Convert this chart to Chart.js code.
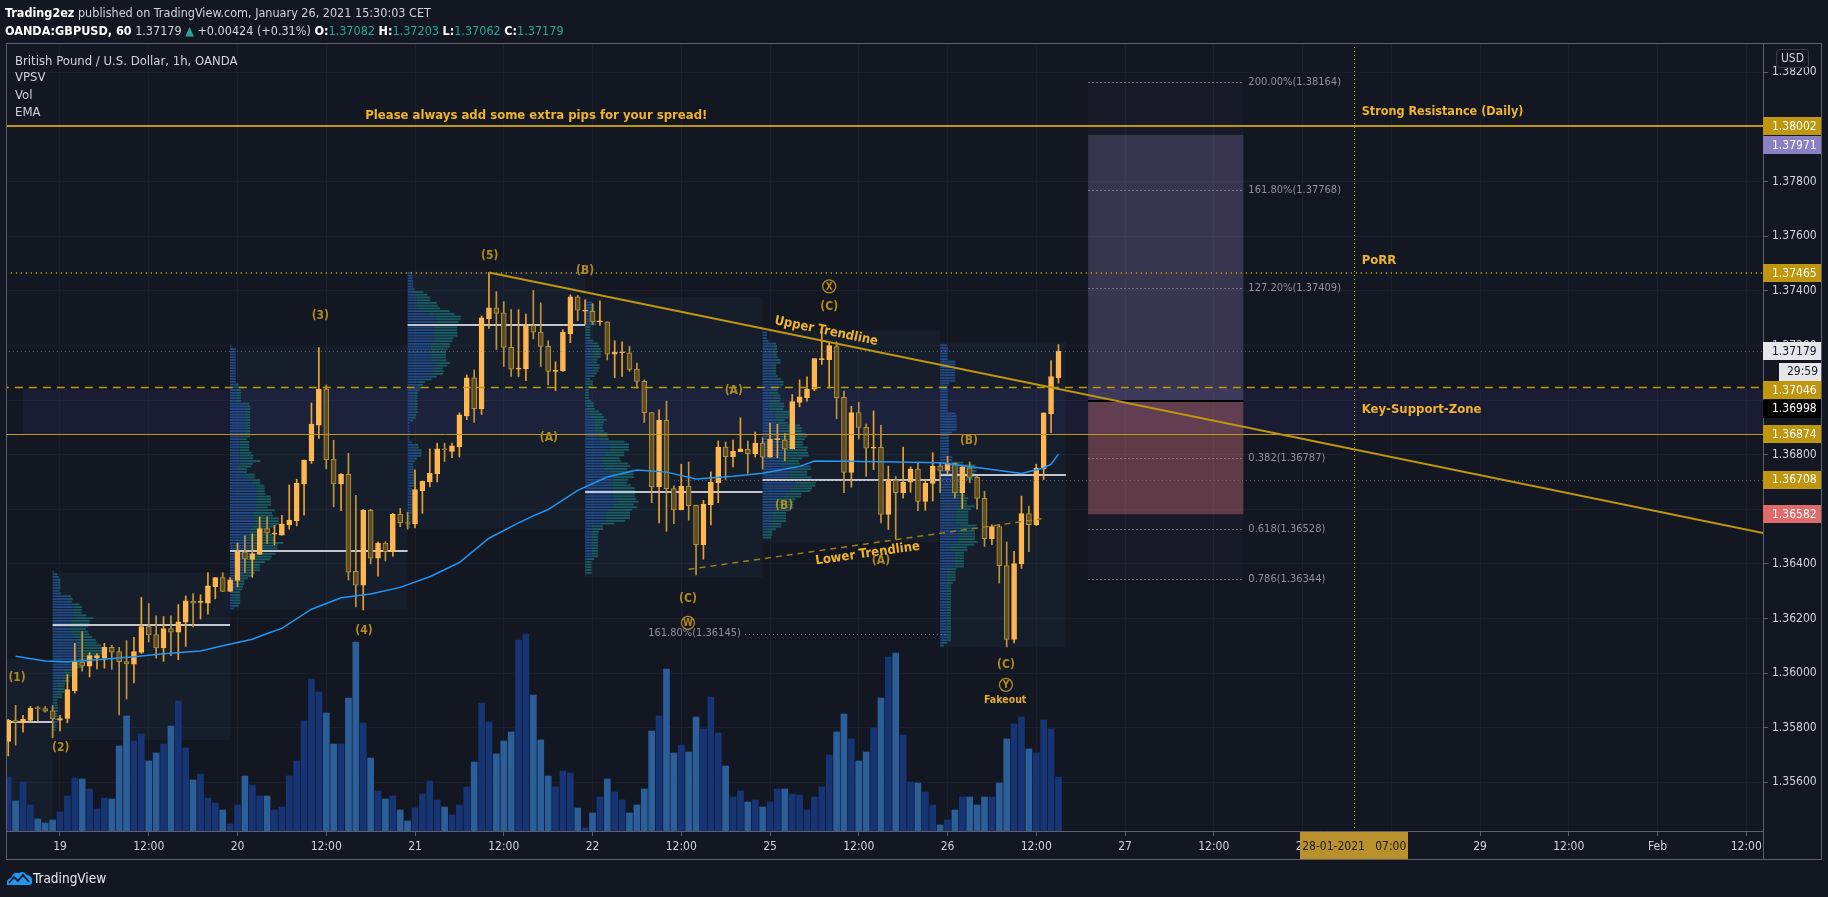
<!DOCTYPE html>
<html>
<head>
<meta charset="utf-8">
<script src="https://cdn.jsdelivr.net/npm/chart.js@4.4.1/dist/chart.umd.min.js"></script>
<style>
  html, body { margin: 0; padding: 0; background: #131722; width: 1828px; height: 897px; overflow: hidden; }
  #chart { position: absolute; left: 0; top: 0; }
  .txt { position: absolute; white-space: nowrap; color: #d1d4dc; z-index: 2; }
  .up { color: #26a69a; }
  b { color: #ffffff; }
</style>
</head>
<body>
<div class="txt" style="left:5px;top:5px;font-size:12.5px"><b>Trading2ez</b> published on TradingView.com, January 26, 2021 15:30:03 CET</div>
<div class="txt" style="left:5px;top:23px;font-size:12.5px"><b>OANDA:GBPUSD, 60</b> 1.37179 <span class="up">&#9650;</span> +0.00424 (+0.31%) <b>O:</b><span class="up">1.37082</span> <b>H:</b><span class="up">1.37203</span> <b>L:</b><span class="up">1.37062</span> <b>C:</b><span class="up">1.37179</span></div>
<div class="txt" style="left:15px;top:53px;font-size:13px">British Pound / U.S. Dollar, 1h, OANDA</div>
<div class="txt" style="left:15px;top:69px;font-size:13px">VPSV</div>
<div class="txt" style="left:15px;top:87px;font-size:13px">Vol</div>
<div class="txt" style="left:15px;top:104px;font-size:13px">EMA</div>
<div class="txt" style="left:6px;top:870px;font-size:13.5px;color:#e8eaf0">
  <svg width="27" height="16" viewBox="0 0 27 16" style="vertical-align:-3px"><path d="M1 15 Q0 9 5 8 Q7 2 13 3 Q17 0 21 5 Q27 6 26 12 Q26 15 23 15 Z" fill="#2196f3"/><polyline points="3,13 8,7 12,11 17,5 23,12" fill="none" stroke="#131722" stroke-width="1.8"/></svg>TradingView
</div>
<canvas id="chart" width="1828" height="897"></canvas>
<script>
// 数据：小时序号 0 = 1月19日 00:00（周末不计）
const firstHour = -7;
const openP = [
  1.35750,1.35826,1.35818,1.35827,1.35871,1.35870,1.35862,
  1.35828,1.35834,1.35936,1.36040,1.36025,1.36055,1.36055,1.36094,1.36079,1.36042,
  1.36033,1.36076,1.36170,1.36141,1.36092,1.36163,1.36150,1.36187,1.36264,1.36259,
  1.36256,1.36317,1.36350,1.36299,1.36339,1.36444,1.36416,1.36435,1.36529,1.36509,
  1.36505,1.36543,1.36557,1.36693,1.36777,1.36908,1.37040,1.36784,1.36693,1.36728,
  1.36373,1.36322,1.36596,1.36421,1.36476,1.36445,1.36582,1.36550,1.36546,1.36668,
  1.36700,1.36730,1.36821,1.36812,1.36828,1.36942,1.37081,1.36968,1.37298,1.37338,
  1.37319,1.37193,1.37113,1.37114,1.37273,1.37249,1.37197,1.37105,1.37107,1.37242,
  1.37378,1.37325,1.37325,1.37286,1.37286,1.37168,1.37173,1.37173,1.37113,1.37068,
  1.36954,1.36682,1.36926,1.36676,1.36598,1.36685,1.36615,1.36470,1.36616,1.36697,
  1.36828,1.36793,1.36811,1.36819,1.36804,1.36842,1.36791,1.36855,1.36853,1.36821,
  1.36991,1.37009,1.37040,1.37148,1.37148,1.37196,1.37010,1.36735,1.36954,1.36900,
  1.36824,1.36827,1.36581,1.36707,1.36661,1.36699,1.36747,1.36629,1.36695,1.36758,
  1.36742,1.36768,1.36661,1.36752,1.36717,1.36640,1.36492,1.36537,1.36394,1.36123,
  1.36400,1.36584,1.36544,1.36748,1.36949,1.37082
];
const highP = [
  1.35831,1.35882,1.35845,1.35878,1.35878,1.35878,1.35881,
  1.35845,1.35995,1.36109,1.36152,1.36075,1.36072,1.36109,1.36102,1.36094,1.36119,
  1.36131,1.36277,1.36255,1.36210,1.36207,1.36210,1.36251,1.36283,1.36291,1.36287,
  1.36368,1.36350,1.36368,1.36350,1.36476,1.36503,1.36510,1.36572,1.36572,1.36541,
  1.36578,1.36689,1.36710,1.36780,1.36989,1.37192,1.37055,1.36853,1.36731,1.36805,
  1.36651,1.36600,1.36600,1.36481,1.36481,1.36585,1.36603,1.36589,1.36744,1.36703,
  1.36821,1.36842,1.36842,1.36842,1.36953,1.37092,1.37110,1.37308,1.37467,1.37397,
  1.37360,1.37331,1.37331,1.37315,1.37401,1.37356,1.37217,1.37140,1.37258,1.37385,
  1.37383,1.37367,1.37353,1.37363,1.37286,1.37217,1.37213,1.37196,1.37135,1.37074,
  1.36954,1.36964,1.36996,1.36686,1.36765,1.36773,1.36615,1.36633,1.36737,1.36850,
  1.36846,1.36853,1.36935,1.36850,1.36883,1.36862,1.36916,1.36911,1.36878,1.37020,
  1.37074,1.37085,1.37152,1.37252,1.37208,1.37213,1.37033,1.36977,1.36992,1.36912,
  1.36960,1.36907,1.36758,1.36720,1.36828,1.36755,1.36773,1.36710,1.36807,1.36768,
  1.36794,1.36769,1.36761,1.36773,1.36721,1.36666,1.36543,1.36544,1.36480,1.36446,
  1.36648,1.36612,1.36765,1.36953,1.37144,1.37203
];
const lowP = [
  1.35697,1.35736,1.35784,1.35821,1.35824,1.35857,1.35763,
  1.35788,1.35818,1.35927,1.36007,1.35986,1.36015,1.36018,1.36014,1.35847,1.35905,
  1.35964,1.36072,1.36114,1.36055,1.36043,1.36064,1.36049,1.36098,1.36169,1.36198,
  1.36216,1.36272,1.36299,1.36299,1.36316,1.36369,1.36351,1.36435,1.36474,1.36470,
  1.36505,1.36527,1.36539,1.36578,1.36768,1.36859,1.36748,1.36609,1.36595,1.36341,
  1.36242,1.36231,1.36400,1.36355,1.36411,1.36428,1.36536,1.36527,1.36532,1.36585,
  1.36682,1.36700,1.36775,1.36789,1.36791,1.36928,1.36918,1.36947,1.37262,1.37185,
  1.37123,1.37086,1.37086,1.37071,1.37224,1.37123,1.37055,1.37034,1.37105,1.37210,
  1.37291,1.37277,1.37277,1.37273,1.37147,1.37082,1.37086,1.37105,1.37043,1.36918,
  1.36624,1.36550,1.36519,1.36547,1.36598,1.36560,1.36360,1.36417,1.36543,1.36624,
  1.36709,1.36755,1.36811,1.36732,1.36791,1.36747,1.36790,1.36789,1.36777,1.36821,
  1.36975,1.36996,1.37034,1.37130,1.37044,1.36932,1.36661,1.36681,1.36857,1.36720,
  1.36745,1.36550,1.36526,1.36491,1.36641,1.36662,1.36595,1.36596,1.36630,1.36661,
  1.36728,1.36641,1.36602,1.36697,1.36600,1.36464,1.36470,1.36330,1.36096,1.36111,
  1.36383,1.36445,1.36540,1.36709,1.36880,1.37062
];
const closeP = [
  1.35827,1.35821,1.35831,1.35871,1.35870,1.35861,1.35832,
  1.35834,1.35940,1.36040,1.36025,1.36064,1.36064,1.36094,1.36077,1.36042,1.36034,
  1.36079,1.36170,1.36140,1.36092,1.36163,1.36150,1.36188,1.36265,1.36256,1.36259,
  1.36320,1.36350,1.36299,1.36342,1.36444,1.36418,1.36437,1.36529,1.36513,1.36509,
  1.36546,1.36560,1.36696,1.36780,1.36912,1.37040,1.36782,1.36693,1.36728,1.36370,
  1.36322,1.36596,1.36421,1.36476,1.36445,1.36582,1.36550,1.36548,1.36672,1.36703,
  1.36732,1.36821,1.36818,1.36832,1.36946,1.37081,1.36968,1.37301,1.37338,1.37317,
  1.37193,1.37113,1.37115,1.37273,1.37248,1.37196,1.37105,1.37107,1.37248,1.37378,
  1.37329,1.37329,1.37286,1.37286,1.37168,1.37175,1.37173,1.37112,1.37068,1.36954,
  1.36682,1.36926,1.36675,1.36598,1.36685,1.36613,1.36470,1.36619,1.36699,1.36828,
  1.36793,1.36812,1.36821,1.36804,1.36842,1.36791,1.36857,1.36855,1.36821,1.36994,
  1.37012,1.37040,1.37152,1.37152,1.37199,1.37009,1.36735,1.36954,1.36900,1.36824,
  1.36824,1.36581,1.36709,1.36661,1.36699,1.36747,1.36629,1.36696,1.36758,1.36742,
  1.36768,1.36661,1.36755,1.36717,1.36640,1.36492,1.36537,1.36393,1.36123,1.36401,
  1.36584,1.36544,1.36751,1.36953,1.37086,1.37179
];
const volume = [
  54,30,49,26,12,8,11,
  19,35,53,52,42,22,33,32,85,115,
  90,97,70,78,87,105,130,83,51,57,
  33,28,21,7,26,55,46,35,35,21,
  24,55,70,110,152,139,118,87,87,133,
  189,108,73,40,32,35,21,10,23,37,
  50,31,24,16,26,44,69,128,109,77,
  90,99,191,197,136,91,55,44,60,58,
  23,3,18,34,52,39,31,18,26,42,
  100,115,162,78,86,79,114,102,134,98,
  65,34,40,29,31,24,29,42,42,37,
  36,21,34,44,76,99,117,92,70,79,
  103,133,174,178,96,49,48,39,26,6,
  11,21,34,34,26,34,34,48,92,107,
  114,82,78,111,102,54
];
// EMA 读自图中的折线
const emaHour = [-6,-2,1,5,10,14,19,22,26,28,30,34,38,42,46,50,54,58,62,64,66,70,74,78,82,86,91,95,100,102,106,113,119,124,130,133,134,135];
const emaPrice = [1.36062,1.36044,1.36042,1.36049,1.36060,1.36071,1.36081,1.36100,1.36124,1.36145,1.36164,1.36234,1.36276,1.36290,1.36314,1.36353,1.36405,1.36494,1.36550,1.36576,1.36599,1.36669,1.36718,1.36744,1.36736,1.36711,1.36721,1.36732,1.36757,1.36777,1.36776,1.36773,1.36770,1.36753,1.36731,1.36751,1.36765,1.36802];

const dayLabels = ['19', '20', '21', '22', '25', '26', '27', '28', '29', 'Feb'];
const priceTicks = [1.356, 1.358, 1.360, 1.362, 1.364, 1.366, 1.368, 1.370, 1.372, 1.374, 1.376, 1.378, 1.380, 1.382];
const hiddenTicks = [1.366, 1.370];

// 图上的画线（以小时、价格表示）
const fibLevels = ['200.00%', '161.80%', '127.20%', '0.382', '0.618', '0.786'];
const fibPrices = [1.38164, 1.37768, 1.37409, 1.36787, 1.36528, 1.36344];

const sessions = [
  { from: -7.5, to: -1, top: 1.36053, bottom: 1.3540, poc: 1.35821, profile: false },
  { from: -1, to: 23, top: 1.36368, bottom: 1.35755, poc: 1.36177, profile: true },
  { from: 23, to: 47, top: 1.37195, bottom: 1.36230, poc: 1.36446, profile: true },
  { from: 47, to: 71, top: 1.37470, bottom: 1.36529, poc: 1.37274, profile: true },
  { from: 71, to: 95, top: 1.37377, bottom: 1.36351, poc: 1.36665, profile: true },
  { from: 95, to: 119, top: 1.37255, bottom: 1.36480, poc: 1.36706, profile: true },
  { from: 119, to: 136, top: 1.37213, bottom: 1.36094, poc: 1.36724, profile: true }
];

const waveLabels = [
  ['(1)', -5.8, 1.35983], ['(2)', 0.1, 1.35726], ['(3)', 35.2, 1.37308], ['(4)', 41.1, 1.36154],
  ['(5)', 58.1, 1.37527], ['(B)', 71.0, 1.37472], ['(A)', 66.1, 1.36861], ['(A)', 91.1, 1.37033],
  ['(C)', 84.9, 1.36271], ['(B)', 97.9, 1.36612], ['(C)', 104.0, 1.37341], ['(A)', 111.0, 1.36411],
  ['(B)', 122.9, 1.36850], ['(C)', 127.9, 1.36030]
];
const circleLabels = [['W', 84.9, 1.36184], ['X', 104.0, 1.37416], ['Y', 127.9, 1.35957]];

function fontAvailable(name) {
  const c = document.createElement('canvas').getContext('2d');
  const s = 'mmmmmmmmmmlli1.37179';
  c.font = '40px monospace';
  const w1 = c.measureText(s).width;
  c.font = '40px "' + name + '", monospace';
  return c.measureText(s).width !== w1;
}
const FONT = fontAvailable('Liberation Sans Narrow') ? '"Liberation Sans Narrow", sans-serif' : '"DejaVu Sans Condensed", sans-serif';
document.body.style.fontFamily = FONT;

const GOLD = '#c0960f';
const GOLD_TXT = '#f0b429';
const WAVE = '#b18a1d';

const hours = openP.map((_, i) => firstHour + i);
const isUp = openP.map((o, i) => closeP[i] >= o);

function drawProfile(ctx, s, X, Y) {
  const step = 0.0001;
  const n = Math.ceil((s.top - s.bottom) / step);
  const up = new Array(n).fill(0), dn = new Array(n).fill(0);
  hours.forEach((h, i) => {
    if (h < s.from || h >= s.to) return;
    const lo = lowP[i], hi = highP[i], span = Math.max(hi - lo, step);
    for (let r = 0; r < n; r++) {
      const a = s.bottom + r * step, b = a + step;
      const ov = Math.min(hi, b) - Math.max(lo, a);
      if (ov > 0) (isUp[i] ? up : dn)[r] += volume[i] * Math.min(ov, step) / span;
    }
  });
  const max = Math.max(...up.map((u, r) => u + dn[r]));
  const x0 = X(s.from), W = (X(s.to) - x0) * 0.3;
  for (let r = 0; r < n; r++) {
    const yT = Y(s.bottom + (r + 1) * step), yB = Y(s.bottom + r * step);
    const hh = Math.max(yB - yT - 0.9, 0.8);
    const wu = up[r] / max * W, wd = dn[r] / max * W;
    ctx.fillStyle = 'rgba(36,82,150,0.85)';
    ctx.fillRect(x0, yT, wu, hh);
    ctx.fillStyle = 'rgba(26,104,112,0.85)';
    ctx.fillRect(x0 + wu, yT, wd, hh);
  }
}

function hline(ctx, X, Y, p, h0, h1, color, width, dash) {
  const y = Math.round(Y(p)) + (width % 2 ? 0.5 : 0);
  ctx.beginPath();
  ctx.setLineDash(dash || []);
  ctx.strokeStyle = color;
  ctx.lineWidth = width;
  ctx.moveTo(X(h0), y);
  ctx.lineTo(X(h1), y);
  ctx.stroke();
  ctx.setLineDash([]);
}

const tvPlugin = {
  id: 'tvDrawings',
  beforeDraw(chart) {
    const c = chart.ctx;
    c.save();
    c.fillStyle = '#131722';
    c.fillRect(0, 0, chart.width, chart.height);
    c.restore();
  },
  beforeDatasetsDraw(chart) {
    const c = chart.ctx, a = chart.chartArea;
    const X = v => chart.scales.x.getPixelForValue(v), Y = v => chart.scales.y.getPixelForValue(v);
    c.save();
    c.beginPath(); c.rect(a.left, a.top, a.right - a.left, a.bottom - a.top); c.clip();
    // Key-Support-Zone
    c.fillStyle = 'rgba(80,62,170,0.13)';
    c.fillRect(X(-5), Y(1.37040), a.right - X(-5), Y(1.36874) - Y(1.37040));
    // session volume profile
    sessions.forEach(s => {
      c.fillStyle = 'rgba(60,110,170,0.08)';
      c.fillRect(X(s.from), Y(s.top), X(s.to) - X(s.from), Y(s.bottom) - Y(s.top));
      if (s.profile) drawProfile(c, s, X, Y);
      hline(c, X, Y, s.poc, s.from, s.to, '#c3c6ce', 2);
    });
    c.restore();
  },
  afterDatasetsDraw(chart) {
    const c = chart.ctx, a = chart.chartArea;
    const X = v => chart.scales.x.getPixelForValue(v), Y = v => chart.scales.y.getPixelForValue(v);
    const L = -8, R = 232;
    c.save();
    c.beginPath(); c.rect(a.left, a.top, a.right - a.left, a.bottom - a.top); c.clip();

    // fib + long position tool
    c.fillStyle = 'rgba(120,123,134,0.05)';
    c.fillRect(X(139), Y(1.38164), X(160) - X(139), Y(1.36344) - Y(1.38164));
    c.fillStyle = 'rgba(150,130,195,0.25)';
    c.fillRect(X(139), Y(1.37971), X(160) - X(139), Y(1.36998) - Y(1.37971));
    c.fillStyle = 'rgba(200,108,120,0.40)';
    c.fillRect(X(139), Y(1.36998), X(160) - X(139), Y(1.36582) - Y(1.36998));
    hline(c, X, Y, 1.36998, 139, 160, '#000000', 2);

    // horizontal lines
    hline(c, X, Y, 1.37179, L, R, 'rgba(130,133,142,0.7)', 1, [1, 3]);
    hline(c, X, Y, 1.36708, 83, R, 'rgba(130,133,142,0.7)', 1, [1, 3]);
    hline(c, X, Y, 1.36145, 92.6, 120.1, 'rgba(150,153,162,0.8)', 1, [1, 3]);
    hline(c, X, Y, 1.38002, L, R, GOLD, 2);
    hline(c, X, Y, 1.37465, L, R, GOLD, 2, [1, 4]);
    hline(c, X, Y, 1.37046, L, R, GOLD, 1.5, [8, 6]);
    hline(c, X, Y, 1.36874, L, R, GOLD, 1);
    fibPrices.forEach(p => hline(c, X, Y, p, 139, 160, 'rgba(130,133,142,0.85)', 1, [2, 2]));

    // vertical line 28-01-2021 07:00
    c.beginPath(); c.setLineDash([1, 3]); c.strokeStyle = GOLD; c.lineWidth = 1;
    c.moveTo(Math.round(X(175)) + 0.5, a.top); c.lineTo(Math.round(X(175)) + 0.5, a.bottom); c.stroke();
    c.setLineDash([]);

    // trendlines
    const up0 = [58, 1.37467], up1 = [230.3, 1.36513];
    const lo0 = [85.0, 1.36380], lo1 = [132.7, 1.36565];
    c.beginPath(); c.strokeStyle = GOLD; c.lineWidth = 2;
    const upAt = h => up0[1] + (up1[1] - up0[1]) * (h - up0[0]) / (up1[0] - up0[0]);
    c.moveTo(X(up0[0]), Y(up0[1])); c.lineTo(X(235), Y(upAt(235))); c.stroke();
    c.beginPath(); c.strokeStyle = '#9c7c1c'; c.lineWidth = 1.5; c.setLineDash([6, 5]);
    c.moveTo(X(lo0[0]), Y(lo0[1])); c.lineTo(X(lo1[0]), Y(lo1[1])); c.stroke();
    c.setLineDash([]);

    // texts
    c.textBaseline = 'middle';
    c.fillStyle = GOLD_TXT;
    c.font = 'bold 13px ' + FONT;
    c.textAlign = 'center';
    c.fillText('Please always add some extra pips for your spread!', X(64.4), Y(1.38043));
    c.textAlign = 'left';
    c.font = 'bold 12.5px ' + FONT;
    c.fillText('Strong Resistance (Daily)', X(176), Y(1.38055));
    c.font = 'bold 13px ' + FONT;
    c.fillText('PoRR', X(176), Y(1.37509));
    c.fillText('Key-Support-Zone', X(176), Y(1.36964));

    const rot = (txt, h, p, p0, p1) => {
      const ang = Math.atan2(Y(p1[1]) - Y(p0[1]), X(p1[0]) - X(p0[0]));
      c.save(); c.translate(X(h), Y(p)); c.rotate(ang);
      c.textAlign = 'center'; c.fillStyle = GOLD_TXT; c.font = 'bold 13px ' + FONT;
      c.fillText(txt, 0, 0); c.restore();
    };
    rot('Upper Trendline', 103.6, 1.37252, up0, up1);
    rot('Lower Trendline', 109.2, 1.36437, lo0, lo1);

    c.textAlign = 'center';
    c.font = 'bold 12px ' + FONT;
    c.fillStyle = WAVE;
    waveLabels.forEach(([t, h, p]) => c.fillText(t, X(h), Y(p)));
    circleLabels.forEach(([t, h, p]) => {
      c.beginPath(); c.strokeStyle = WAVE; c.lineWidth = 1.3;
      c.arc(X(h), Y(p), 6.5, 0, Math.PI * 2); c.stroke();
      c.font = 'bold 10px ' + FONT; c.fillText(t, X(h), Y(p) + 0.5);
    });
    c.font = 'bold 10.5px ' + FONT; c.fillStyle = '#e3ad2c';
    c.fillText('Fakeout', X(127.8), Y(1.35902));

    // fib labels
    c.font = '11px ' + FONT; c.fillStyle = '#8f929b'; c.textAlign = 'left';
    fibLevels.forEach((lv, i) => c.fillText(lv + '(' + fibPrices[i].toFixed(5) + ')', X(160) + 5, Y(fibPrices[i])));
    c.textAlign = 'right';
    c.fillText('161.80%(1.36145)', X(92.6) - 4, Y(1.36145));
    c.restore();
  },
  afterDraw(chart) {
    const c = chart.ctx, a = chart.chartArea;
    const X = v => chart.scales.x.getPixelForValue(v), Y = v => chart.scales.y.getPixelForValue(v);
    c.save();
    // price labels on the axis
    const items = [
      { p: 1.38002, t: '1.38002', bg: '#c0960f', fg: '#ffffff' },
      { p: 1.37971, t: '1.37971', bg: '#8c80c4', fg: '#ffffff' },
      { p: 1.37465, t: '1.37465', bg: '#c0960f', fg: '#ffffff' },
      { p: 1.37179, t: '1.37179', bg: '#e6e7ea', fg: '#131722' },
      { p: 1.37179, t: '29:59', bg: '#e6e7ea', fg: '#131722', off: 20.5, narrow: true },
      { p: 1.37046, t: '1.37046', bg: '#c0960f', fg: '#ffffff' },
      { p: 1.36998, t: '1.36998', bg: '#000000', fg: '#ffffff' },
      { p: 1.36874, t: '1.36874', bg: '#c0960f', fg: '#ffffff' },
      { p: 1.36708, t: '1.36708', bg: '#c0960f', fg: '#ffffff' },
      { p: 1.36582, t: '1.36582', bg: '#e16a6a', fg: '#ffffff' }
    ];
    items.forEach(it => { it.y = Y(it.p) + (it.off || 0); });
    items.sort((u, v) => u.y - v.y);
    let prev = -1e9;
    items.forEach(it => { if (it.y < prev + 18.5) it.y = prev + 18.5; prev = it.y; });
    c.font = '12px ' + FONT; c.textBaseline = 'middle'; c.textAlign = 'left';
    items.forEach(it => {
      const x0 = it.narrow ? a.right + 16 : a.right;
      c.fillStyle = it.bg;
      c.fillRect(x0, Math.round(it.y - 9), 1821 - x0, 18);
      c.fillStyle = it.fg;
      c.fillText(it.t, it.narrow ? x0 + 8 : a.right + 9, it.y + 0.5);
    });
    // time highlight
    const hx = X(175);
    c.fillStyle = '#b8912a';
    c.fillRect(Math.round(hx - 54), a.bottom + 1, 108, 28);
    c.fillStyle = '#1a1a1a'; c.textAlign = 'center'; c.font = '12px ' + FONT;
    c.fillText('28-01-2021   07:00', hx, a.bottom + 15.5);
    // frame
    c.strokeStyle = '#5d606b'; c.lineWidth = 1;
    c.strokeRect(6.5, 43.5, 1815, 816);
    c.beginPath(); c.moveTo(a.right + 0.5, a.bottom); c.lineTo(a.right + 0.5, 860); c.stroke();
    // USD button
    c.beginPath(); c.strokeStyle = '#3a3e4a'; c.fillStyle = '#131722';
    c.roundRect(1776.5, 49.5, 32, 18, 3); c.fill(); c.stroke();
    c.fillStyle = '#d1d4dc'; c.font = '12px ' + FONT; c.textAlign = 'center';
    c.fillText('USD', 1792.5, 59);
    c.restore();
  }
};

const timeTicks = dayLabels.flatMap((d, i) => [i * 24, i * 24 + 12]);
const wickData = hours.map((h, i) => ({ x: h, y: [lowP[i], highP[i]] }));
const bodyData = hours.map((h, i) => ({ x: h, y: [openP[i], closeP[i]] }));
const volData = hours.map((h, i) => ({ x: h, y: volume[i] }));
const emaData = emaHour.map((h, i) => ({ x: h, y: emaPrice[i] }));

const ctx = document.getElementById('chart').getContext('2d');
new Chart(ctx, {
  type: 'bar',
  data: {
    datasets: [
      { label: 'Vol', data: volData, yAxisID: 'yVol', grouped: false, barThickness: 6, order: 4,
        backgroundColor: isUp.map(u => u ? '#173574' : '#2c5f99') },
      { label: 'wick', data: wickData, yAxisID: 'y', grouped: false, barThickness: 1, order: 3,
        backgroundColor: isUp.map(u => u ? '#eda22a' : '#c0953a') },
      { label: 'body', data: bodyData, yAxisID: 'y', grouped: false, barThickness: 5, minBarLength: 1, order: 2,
        borderSkipped: false, borderWidth: 1,
        backgroundColor: isUp.map(u => u ? '#ffb64f' : '#5e4c24'),
        borderColor: isUp.map(u => u ? '#ffb64f' : '#b89234') },
      { type: 'line', label: 'EMA', data: emaData, yAxisID: 'y', order: 1,
        borderColor: '#2196f3', borderWidth: 1.5, pointRadius: 0, tension: 0 }
    ]
  },
  options: {
    responsive: false,
    animation: false,
    devicePixelRatio: 1,
    layout: { padding: { left: 7, top: 43, right: 7, bottom: 37 } },
    plugins: { legend: { display: false }, tooltip: { enabled: false } },
    scales: {
      x: {
        type: 'linear', min: -7.166, max: 230.26, offset: false,
        grid: { color: '#1b1f2b', tickColor: '#5d606b', tickLength: 5, offset: false },
        border: { color: '#5d606b' },
        ticks: {
          color: '#d1d4dc', font: { family: FONT, size: 12 }, padding: 4, maxRotation: 0, autoSkip: false,
          callback: v => (v % 24 === 0 ? dayLabels[v / 24] : '12:00')
        },
        afterBuildTicks: s => { s.ticks = timeTicks.map(v => ({ value: v })); },
        afterFit: s => { s.height = 29; }
      },
      y: {
        position: 'right', min: 1.354219, max: 1.383073,
        grid: { color: '#1b1f2b', tickColor: '#5d606b', tickLength: 5 },
        border: { color: '#5d606b' },
        ticks: { color: '#d1d4dc', font: { family: FONT, size: 12 }, padding: 4,
          callback: v => (hiddenTicks.some(t => Math.abs(t - v) < 1e-7) ? '' : v.toFixed(5)) },
        afterBuildTicks: s => { s.ticks = priceTicks.map(v => ({ value: v })); },
        afterFit: s => { s.width = 58; }
      },
      yVol: { display: false, min: 0, max: 788 }
    }
  },
  plugins: [tvPlugin]
});
</script>
</body>
</html>
